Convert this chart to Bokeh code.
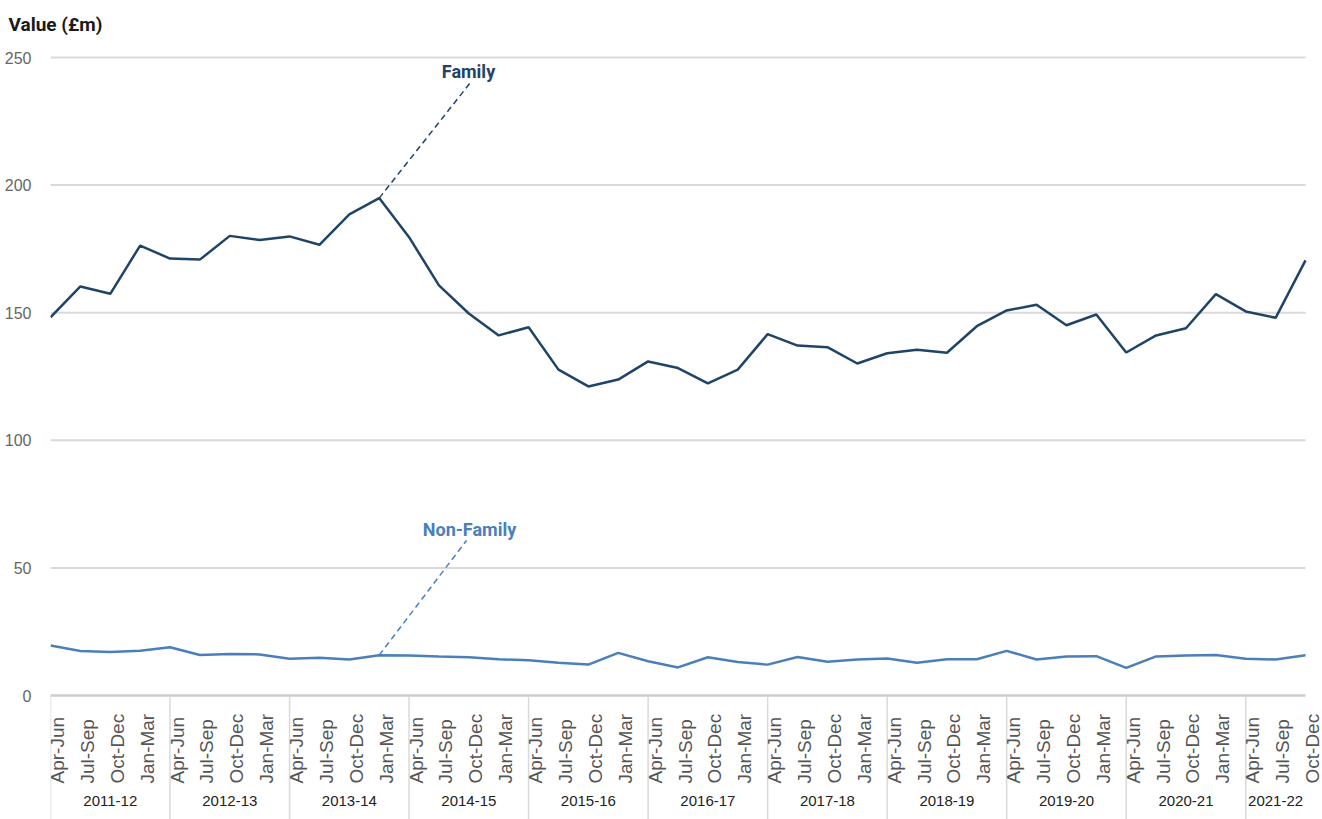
import numpy as np
from bokeh.plotting import figure
from bokeh.models import Range1d, FixedTicker
from bokeh.core.properties import value
from bokeh.embed import file_html
from bokeh.resources import INLINE

# Quarterly values (£m), Apr-Jun 2011-12 to Oct-Dec 2021-22
years = ["2011-12", "2012-13", "2013-14", "2014-15", "2015-16", "2016-17",
         "2017-18", "2018-19", "2019-20", "2020-21", "2021-22"]
quarters = ["Apr-Jun", "Jul-Sep", "Oct-Dec", "Jan-Mar"]

family = [148.2, 160.3, 157.4, 176.3, 171.2, 170.8, 180.1, 178.5, 179.9, 176.6,
          188.5, 194.9, 179.6, 160.7, 149.7, 141.1, 144.3, 127.7, 121.1, 123.8,
          130.9, 128.3, 122.3, 127.7, 141.6, 137.1, 136.5, 130.1, 134.1, 135.5,
          134.3, 144.7, 150.9, 153.1, 145.1, 149.3, 134.4, 141.1, 143.9, 157.3,
          150.5, 148.0, 170.5]
non_family = [19.6, 17.4, 17.0, 17.5, 18.9, 15.9, 16.3, 16.1, 14.4, 14.8,
              14.1, 15.8, 15.7, 15.3, 15.0, 14.2, 13.8, 12.8, 12.1, 16.7,
              13.4, 11.0, 15.0, 13.1, 12.1, 15.1, 13.2, 14.1, 14.5, 12.8,
              14.2, 14.2, 17.5, 14.1, 15.3, 15.4, 10.8, 15.3, 15.7, 15.9,
              14.4, 14.1, 15.8]
y_ticks = [0, 50, 100, 150, 200, 250]

series_names = ["Family", "Non-Family"]
leader_from = 11  # quarter the label leaders start from (Jan-Mar 2013-14)

n = len(family)
xs = np.arange(n)
quarter_labels = [quarters[i % 4] for i in range(n)]

# ---- layout (pixels) ----
W, H = 1322, 819
LEFT = 50            # room for the value axis
TOP = 40             # room for the axis title
PLOT_RIGHT = 1305    # last quarter sits here
ZERO_PX = 695        # baseline, measured from the top of the page
TOP_TICK_PX = 57     # 250 gridline

x_unit = (PLOT_RIGHT - LEFT) / (n - 1)
y_unit = (ZERO_PX - TOP_TICK_PX) / y_ticks[-1]

x_range = Range1d(0, (W - LEFT) / x_unit)
y_range = Range1d(-(H - ZERO_PX) / y_unit, (ZERO_PX - TOP) / y_unit)

def px_x(px):
    return (px - LEFT) / x_unit

def px_y(py):
    return (ZERO_PX - py) / y_unit

FONT = "Roboto"
REGULAR = "'Liberation Sans', Arial, sans-serif"
FAMILY_COLOR = "#1f4468"
NONFAM_COLOR = "#4a7fb9"
GRID_COLOR = "#d9d9d9"

p = figure(width=W, height=H, x_range=x_range, y_range=y_range,
           output_backend="svg", toolbar_location=None, x_axis_location=None,
           min_border_left=LEFT, min_border_right=0, min_border_top=TOP,
           min_border_bottom=0, outline_line_color=None,
           background_fill_color="white", border_fill_color="white")
p.grid.visible = False

# value axis title
p.title.text = "Value (£m)"
p.title.align = "left"
p.title.offset = 8 - LEFT
p.title.text_font = FONT
p.title.text_font_style = "bold"
p.title.text_font_size = "19px"
p.title.text_color = "#1a1a1a"

# value axis: labels only
yax = p.yaxis[0]
yax.ticker = FixedTicker(ticks=y_ticks)
yax.axis_line_color = None
yax.major_tick_line_color = None
yax.minor_tick_line_color = None
yax.major_label_standoff = 13
yax.major_label_text_font = REGULAR
yax.major_label_text_font_size = "16px"
yax.major_label_text_color = "#666666"

# horizontal gridlines and baseline
p.segment(x0=0, x1=n - 1, y0=y_ticks[1:], y1=y_ticks[1:],
          line_color=GRID_COLOR, line_width=2)
p.segment(x0=[0], x1=[n - 1], y0=[0], y1=[0], line_color="#cccccc", line_width=2.5)

# year group separators below the baseline
sep_x = list(range(0, n, 4))
p.segment(x0=sep_x, x1=sep_x, y0=0, y1=y_range.start,
          line_color=GRID_COLOR, line_width=1.5)

# quarter labels (rotated) and year labels
p.text(x=xs, y=px_y(783), text=quarter_labels, angle=np.pi / 2,
       text_align="left", text_baseline="middle", x_offset=7,
       text_font=value(REGULAR), text_font_size="19px", text_color="#555555")
year_centers = [(s + min(s + 4, n - 1)) / 2 for s in sep_x]
p.text(x=year_centers, y=px_y(800), text=years, text_align="center",
       text_baseline="middle", text_font=value(REGULAR), text_font_size="15px",
       text_color="#222222")

# series
p.line(xs, family, line_color=FAMILY_COLOR, line_width=2.5)
p.line(xs, non_family, line_color=NONFAM_COLOR, line_width=2.5)

# series labels with dashed leaders
label_pos = [(px_x(468), px_y(71)), (px_x(469), px_y(529))]
leader_end = [(px_x(470), px_y(82)), (px_x(466), px_y(540))]
for name, data, color, (lx, ly), (ex, ey) in zip(
        series_names, [family, non_family], [FAMILY_COLOR, NONFAM_COLOR],
        label_pos, leader_end):
    p.segment(x0=[leader_from], y0=[data[leader_from]], x1=[ex], y1=[ey],
              line_color=color, line_width=1.5, line_dash="6 4")
    p.text(x=[lx], y=[ly], text=[name], text_align="center",
           text_baseline="middle", text_font=value(FONT),
           text_font_style="bold", text_font_size="18px", text_color=color)

open("out.html", "w").write(file_html(p, INLINE))
